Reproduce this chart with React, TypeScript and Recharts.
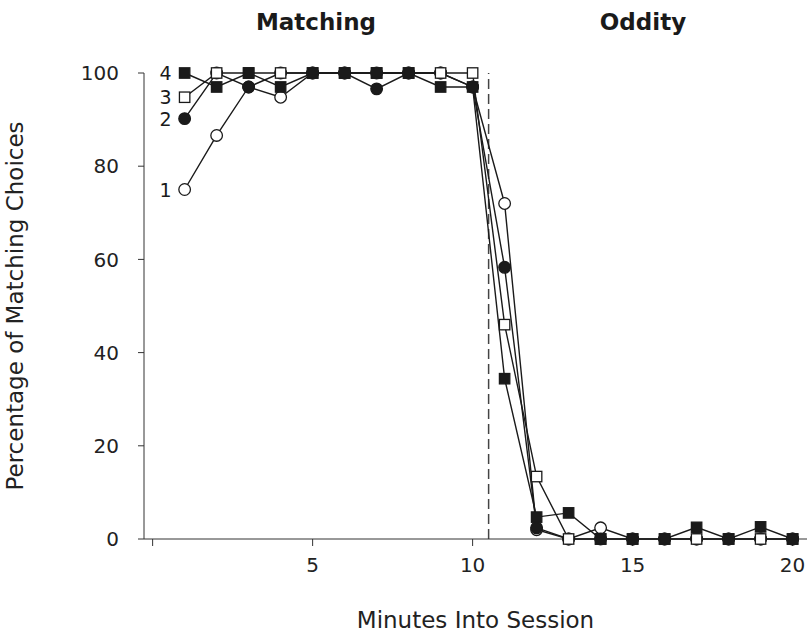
import React from 'react';
import {
  LineChart,
  Line,
  XAxis,
  YAxis,
  ReferenceLine,
  LabelList,
} from 'recharts';

// Minutes into the session (x values)
const minutes = [1, 2, 3, 4, 5, 6, 7, 8, 9, 10, 11, 12, 13, 14, 15, 16, 17, 18, 19, 20];

// Percentage of matching choices, one list per subject
const subject1 = [75, 86.6, 97, 94.8, 100, 100, 100, 100, 100, 97, 72, 2, 0, 2.4, 0, 0, 0, 0, 0, 0];
const subject2 = [90.2, 100, 97, 100, 100, 100, 96.6, 100, 100, 97, 58.3, 2.4, 0, 0, 0, 0, 0, 0, 0, 0];
const subject3 = [94.8, 100, 100, 100, 100, 100, 100, 100, 100, 100, 46, 13.4, 0, 0, 0, 0, 0, 0, 0, 0];
const subject4 = [100, 97, 100, 97, 100, 100, 100, 100, 97, 97, 34.4, 4.7, 5.6, 0, 0, 0, 2.5, 0, 2.6, 0];

const subjectLabels = ['1', '2', '3', '4'];

const xTicks = [0, 5, 10, 15, 20];
const yTicks = [0, 20, 40, 60, 80, 100];

// phase change between matching and oddity
const phaseChange = 10.5;

const data = minutes.map((m, i) => ({
  minute: m,
  s1: subject1[i],
  s2: subject2[i],
  s3: subject3[i],
  s4: subject4[i],
}));

const INK = '#1a1a1a';

// marker shapes
const makeDot = (shape: 'circle' | 'square', filled: boolean) => (props: any) => {
  const { cx, cy, index } = props;
  if (cx == null || cy == null) return <g key={`d-${index}`} />;
  const fill = filled ? INK : '#fff';
  if (shape === 'circle') {
    return <circle key={`d-${index}`} cx={cx} cy={cy} r={5.8} fill={fill} stroke={INK} strokeWidth={1.3} />;
  }
  return (
    <rect key={`d-${index}`} x={cx - 5.2} y={cy - 5.2} width={10.4} height={10.4} fill={fill} stroke={INK} strokeWidth={1.3} />
  );
};

// subject number to the left of the first point
const makeSeriesLabel = (text: string) => (props: any) => {
  const { x, y, index } = props;
  if (index !== 0) return null;
  return (
    <text x={x - 19} y={y} textAnchor="middle" dominantBaseline="central" fontSize={19} fill={INK}>
      {text}
    </text>
  );
};

const series = [
  { key: 's1', shape: 'circle' as const, filled: false },
  { key: 's2', shape: 'circle' as const, filled: true },
  { key: 's3', shape: 'square' as const, filled: false },
  { key: 's4', shape: 'square' as const, filled: true },
];

export default function App() {
  return (
    <div style={{ position: 'relative', width: 807, height: 632, fontFamily: '"DejaVu Sans", Verdana, sans-serif', background: '#fff' }}>
      <style>{`body { margin: 0; overflow: hidden; }`}</style>

      <div className="phase-title" style={{ left: 216 }}>Matching</div>
      <div className="phase-title" style={{ left: 543 }}>Oddity</div>

      <LineChart width={807} height={632} data={data} margin={{ top: 73, right: 0, left: 0, bottom: 0 }}>
        <XAxis
          dataKey="minute"
          type="number"
          domain={[-0.27, 20.45]}
          ticks={xTicks}
          tickFormatter={(v: number) => (v === 0 ? '' : String(v))}
          height={93}
          tickSize={7}
          tickMargin={12}
          stroke="#333"
          tick={{ fontSize: 20, fill: '#222' }}
          label={{ value: 'Minutes Into Session', position: 'insideBottom', offset: 4, fontSize: 23, fill: '#222' }}
        />
        <YAxis
          type="number"
          domain={[0, 100]}
          ticks={yTicks}
          width={144}
          tickSize={6}
          tickMargin={19}
          stroke="#333"
          tick={{ fontSize: 20, fill: '#222' }}
          label={{
            value: 'Percentage of Matching Choices',
            angle: -90,
            position: 'insideLeft',
            offset: 15,
            fontSize: 23,
            fill: '#222',
            style: { textAnchor: 'middle' },
          }}
        />
        <ReferenceLine x={phaseChange} stroke="#444" strokeWidth={1.5} strokeDasharray="10 5" />
        {series.map((s, i) => (
          <Line
            key={s.key}
            dataKey={s.key}
            type="linear"
            stroke={INK}
            strokeWidth={1.4}
            dot={makeDot(s.shape, s.filled)}
            activeDot={false}
            isAnimationActive={false}
          >
            <LabelList dataKey={s.key} content={makeSeriesLabel(subjectLabels[i])} />
          </Line>
        ))}
      </LineChart>

      <style>{`
        .phase-title {
          position: absolute;
          top: 11px;
          width: 200px;
          text-align: center;
          font-size: 23px;
          line-height: 23px;
          font-weight: bold;
          color: #1a1a1a;
          z-index: 1;
        }
      `}</style>
    </div>
  );
}
